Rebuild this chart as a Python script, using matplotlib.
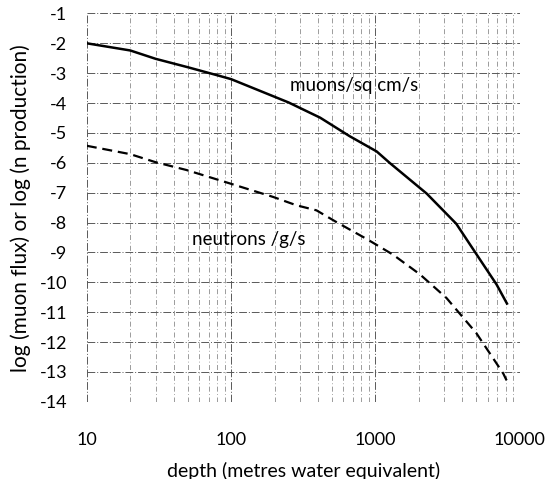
"""Muon flux and neutron production versus depth underground."""

import matplotlib

matplotlib.use("Agg")
import matplotlib.pyplot as plt
from matplotlib.ticker import FixedLocator, LogLocator, NullFormatter

# depth in metres water equivalent
muon_depth = [10, 20, 30, 50, 83, 100, 250, 414, 663, 1020, 1260, 2265, 3630, 5270, 6900, 8150]
muon_log_flux = [-2.0, -2.24, -2.52, -2.8, -3.09, -3.2, -3.98, -4.49, -5.11, -5.62, -6.01,
                 -7.03, -8.04, -9.22, -10.07, -10.71]

neutron_depth = [10, 20, 30, 49, 98, 195, 283, 390, 535, 870, 1320, 2030, 3100, 5000, 7680, 8100]
neutron_log_prod = [-5.43, -5.71, -5.98, -6.24, -6.69, -7.14, -7.42, -7.59, -7.98, -8.55,
                    -9.07, -9.73, -10.52, -11.7, -13.05, -13.28]

x_ticks = [10, 100, 1000, 10000]
x_tick_labels = ["10", "100", "1000", "10000"]
y_ticks = list(range(-14, 0))

plt.rcParams["font.family"] = ["Lato", "DejaVu Sans"]

fig = plt.figure(figsize=(5.46, 4.79), dpi=100)
ax = fig.add_axes([0.159, 0.161, 0.793, 0.811])

ax.set_xscale("log")
ax.set_xlim(10, 10000)
ax.set_ylim(-14, -1)

ax.xaxis.set_major_locator(FixedLocator(x_ticks))
ax.set_xticklabels(x_tick_labels)
ax.xaxis.set_minor_locator(LogLocator(base=10, subs=range(2, 10)))
ax.xaxis.set_minor_formatter(NullFormatter())
ax.set_yticks(y_ticks)
ax.set_yticklabels([str(v) for v in y_ticks])

# scanned-looking broken grid
ax.grid(True, which="major", color="0.35", linewidth=0.7, linestyle=(0, (8, 2, 1, 2)))
ax.grid(True, which="minor", axis="x", color="0.55", linewidth=0.6, linestyle=(0, (6, 3, 1, 3)))
for side in ax.spines.values():
    side.set_visible(False)
ax.tick_params(which="both", length=0, labelsize=13, colors="black")
ax.tick_params(axis="y", pad=14)
ax.tick_params(axis="x", pad=22)

ax.plot(muon_depth, muon_log_flux, color="black", linewidth=1.8)
ax.plot(neutron_depth, neutron_log_prod, color="black", linewidth=1.6, dashes=(4.5, 2.6))

fig.text(290 / 546, 1 - 85 / 479, "muons/sq cm/s", fontsize=13.5, va="center")
fig.text(192 / 546, 1 - 240 / 479, "neutrons /g/s", fontsize=13.5, va="center")

ax.set_xlabel("depth (metres water equivalent)", fontsize=14, labelpad=10)
ax.set_ylabel("log (muon flux) or log (n production)", fontsize=15, labelpad=6)

fig.savefig("out.png", dpi=100)
